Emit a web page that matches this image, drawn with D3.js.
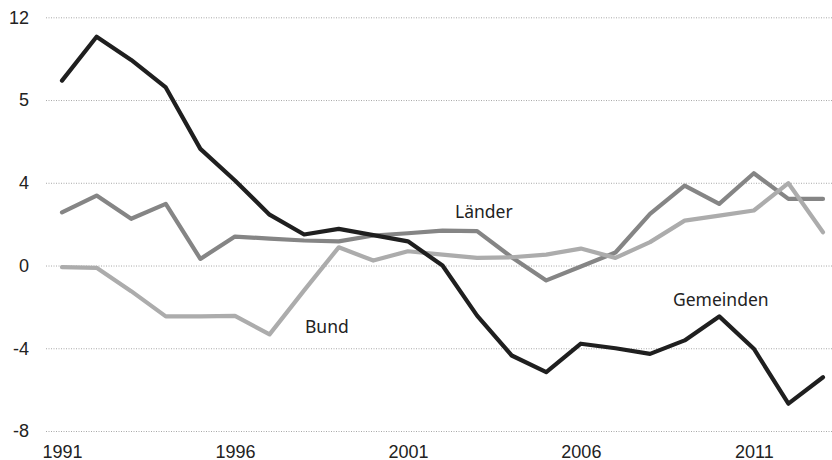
<!DOCTYPE html>
<html>
<head>
<meta charset="utf-8">
<script src="https://cdn.jsdelivr.net/npm/d3@7"></script>
<style>
  body { margin: 0; background: #fff; }
  svg { display: block; font-family: "Noto Sans", sans-serif; }
  .grid line { stroke: #a8a8a8; stroke-dasharray: 1,1.5; }
  .axis text { font-size: 18px; fill: #222; }
  .lbl { font-size: 17.5px; fill: #222; }
</style>
</head>
<body>
<svg width="832" height="460"></svg>
<script>
var years = d3.range(1991, 2014);
var gemeinden = [8.94, 11.06, 9.94, 8.61, 5.64, 4.11, 2.46, 1.5, 1.77, 1.47, 1.17, 0,
                 -2.42, -4.35, -5.15, -3.78, -4.0, -4.27, -3.62, -2.46, -4.02, -6.68, -5.4];
var laender = [2.57, 3.38, 2.26, 2.98, 0.32, 1.4, 1.3, 1.21, 1.17, 1.45, 1.56, 1.69,
               1.66, 0.4, -0.72, -0.05, 0.63, 2.5, 3.86, 2.98, 4.46, 3.22, 3.22];
var bund = [-0.08, -0.11, -1.24, -2.46, -2.46, -2.43, -3.33, -1.2, 0.88, 0.24, 0.69, 0.53,
            0.37, 0.4, 0.53, 0.82, 0.37, 1.13, 2.17, 2.41, 2.66, 3.98, 1.61];
var yTicks = [-8, -4, 0, 4, 8, 12];
var yTickLabels = ["-8", "-4", "0", "4", "5", "12"];
var xTicks = [1991, 1996, 2001, 2006, 2011];

var svg = d3.select("svg");

var x = d3.scaleLinear().domain([1991, 2013]).range([62, 823]);
var y = d3.scaleLinear().domain([-8, 12]).range([431, 17.3]);

// y grid + labels
var ga = svg.append("g")
    .attr("class", "axis grid")
    .attr("transform", "translate(46,0)")
    .call(d3.axisLeft(y)
        .tickValues(yTicks)
        .tickFormat(function(d, i) { return yTickLabels[i]; })
        .tickSize(-(832 - 46))
        .tickPadding(17));
ga.select(".domain").remove();
ga.selectAll("text").attr("font-family", null).attr("font-size", null);

// x labels
var xa = svg.append("g")
    .attr("class", "axis")
    .attr("transform", "translate(0,431)")
    .call(d3.axisBottom(x)
        .tickValues(xTicks)
        .tickFormat(d3.format("d"))
        .tickSize(0)
        .tickPadding(14.5));
xa.select(".domain").remove();
xa.selectAll("text").attr("font-family", null).attr("font-size", null);

var line = d3.line()
    .x(function(d) { return x(d[0]); })
    .y(function(d) { return y(d[1]); });

var series = [
  { name: "Länder", values: laender, color: "#858585" },
  { name: "Bund", values: bund, color: "#acacac" },
  { name: "Gemeinden", values: gemeinden, color: "#1f1f1f" }
];

svg.append("g").selectAll("path")
  .data(series)
  .enter().append("path")
    .attr("fill", "none")
    .attr("stroke", function(d) { return d.color; })
    .attr("stroke-width", 4.2)
    .attr("stroke-linejoin", "round")
    .attr("stroke-linecap", "round")
    .attr("d", function(d) { return line(d.values.map(function(v, i) { return [years[i], v]; })); });

// series labels
svg.append("text").attr("class", "lbl").attr("x", 455).attr("y", 218).text("Länder");
svg.append("text").attr("class", "lbl").attr("x", 305).attr("y", 333).text("Bund");
svg.append("text").attr("class", "lbl").attr("x", 673).attr("y", 306).text("Gemeinden");
</script>
</body>
</html>
